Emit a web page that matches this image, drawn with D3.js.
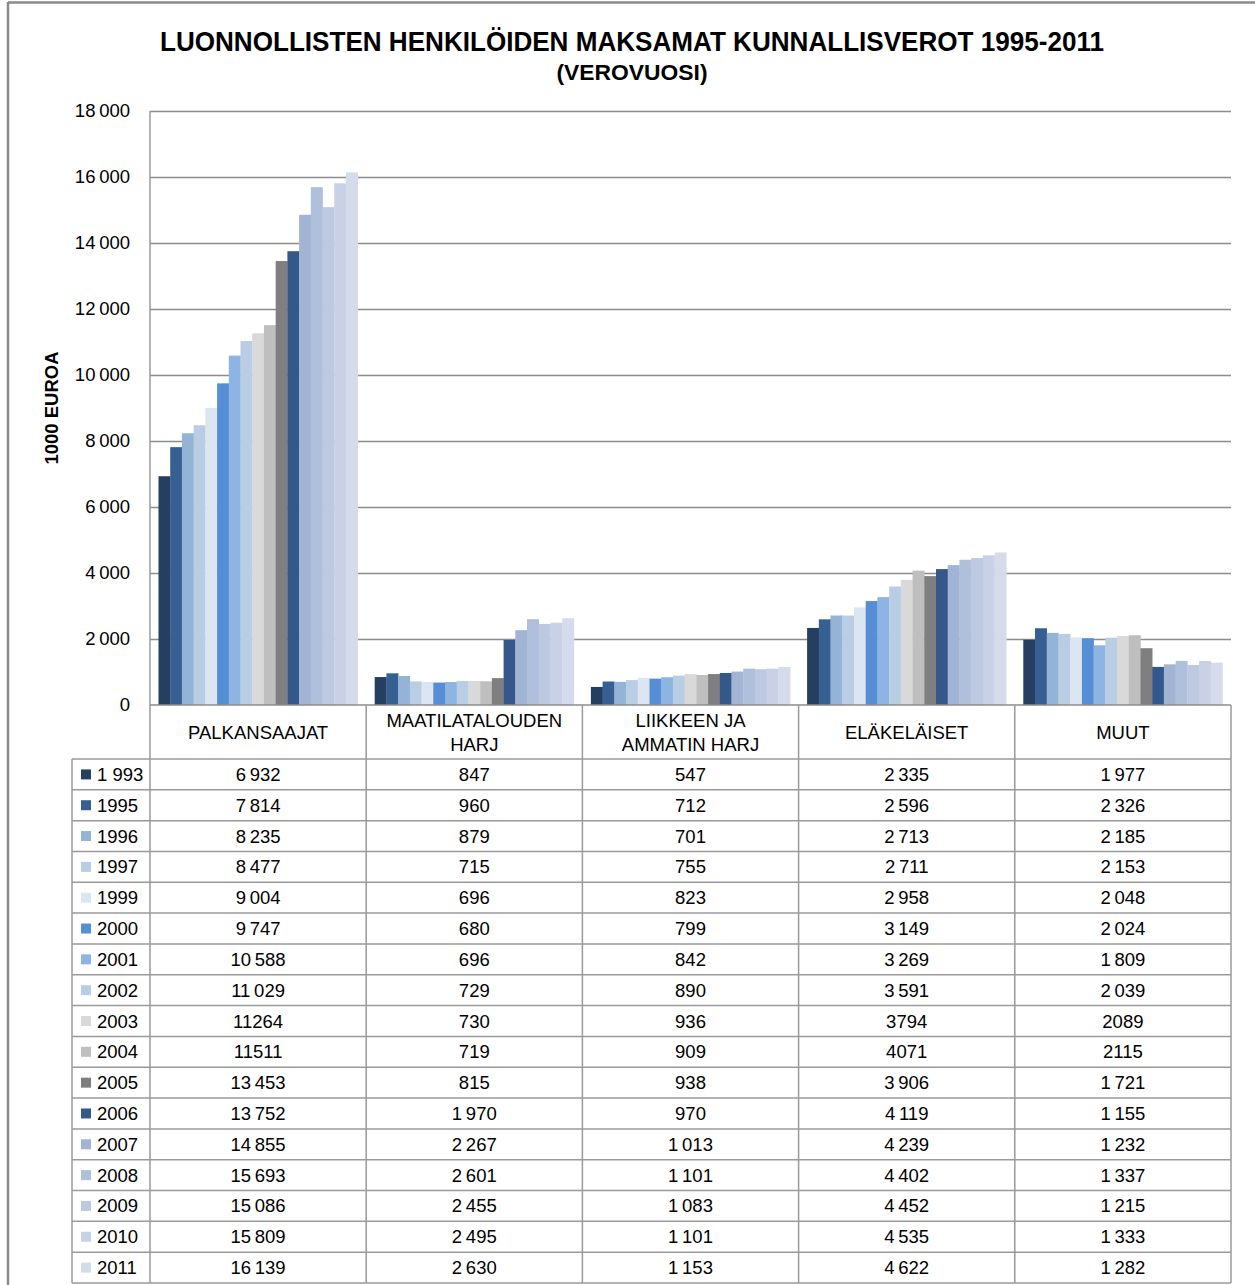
<!DOCTYPE html>
<html>
<head>
<meta charset="utf-8">
<script src="https://cdnjs.cloudflare.com/ajax/libs/d3/7.8.5/d3.min.js"></script>
<style>
html,body{margin:0;padding:0;background:#fff;}
svg{display:block;}
text{font-family:"Liberation Sans",Arial,sans-serif;fill:#000;}
</style>
</head>
<body>
<script>
const categories = ["PALKANSAAJAT","MAATILATALOUDEN HARJ","LIIKKEEN JA AMMATIN HARJ","ELÄKELÄISET","MUUT"];
const categoryLines = [["PALKANSAAJAT"],["MAATILATALOUDEN","HARJ"],["LIIKKEEN JA","AMMATIN HARJ"],["ELÄKELÄISET"],["MUUT"]];
const years = ["1 993","1995","1996","1997","1999","2000","2001","2002","2003","2004","2005","2006","2007","2008","2009","2010","2011"];
const palkansaajat = [6932,7814,8235,8477,9004,9747,10588,11029,11264,11511,13453,13752,14855,15693,15086,15809,16139];
const maatilatalouden = [847,960,879,715,696,680,696,729,730,719,815,1970,2267,2601,2455,2495,2630];
const liikkeen = [547,712,701,755,823,799,842,890,936,909,938,970,1013,1101,1083,1101,1153];
const elakelaiset = [2335,2596,2713,2711,2958,3149,3269,3591,3794,4071,3906,4119,4239,4402,4452,4535,4622];
const muut = [1977,2326,2185,2153,2048,2024,1809,2039,2089,2115,1721,1155,1232,1337,1215,1333,1282];
const unseparatedYears = ["2003","2004"];
const yTicks = [0,2000,4000,6000,8000,10000,12000,14000,16000,18000];
const yearColors = ["#243F60","#376092","#95B3D7","#B9CDE5","#DCE6F2","#558ED5","#8EB4E3","#B9CDE5","#D9D9D9","#BFBFBF","#7F7F7F","#35588A","#A1B4D4","#AFC0DC","#BDC9E1","#C9D1E6","#D4DCEB"];

const seriesByCategory = [palkansaajat, maatilatalouden, liikkeen, elakelaiset, muut];

const W = 1255, H = 1285;
const plot = {left:150, right:1231, top:111, bottom:705};
const tableTop = 759, tableBottom = 1283, legendLeft = 72;

const svg = d3.select("body").append("svg").attr("width", W).attr("height", H);

// outer frame
svg.append("line").attr("x1",8).attr("x2",W).attr("y1",2.5).attr("y2",2.5).attr("stroke","#8a8a8a").attr("stroke-width",2.5);
svg.append("line").attr("x1",8).attr("x2",8).attr("y1",2).attr("y2",H).attr("stroke","#8a8a8a").attr("stroke-width",2.5);

// title
svg.append("text").attr("x",632).attr("y",51).attr("text-anchor","middle")
  .attr("font-weight","bold").attr("font-size",28.5)
  .attr("textLength",944).attr("lengthAdjust","spacingAndGlyphs")
  .text("LUONNOLLISTEN HENKILÖIDEN MAKSAMAT KUNNALLISVEROT 1995-2011");
svg.append("text").attr("x",632).attr("y",80).attr("text-anchor","middle")
  .attr("font-weight","bold").attr("font-size",22)
  .attr("textLength",151).attr("lengthAdjust","spacingAndGlyphs")
  .text("(VEROVUOSI)");

const y = d3.scaleLinear().domain([0,18000]).range([plot.bottom, plot.top]);
const x0 = d3.scaleBand().domain(categories).range([plot.left, plot.right]).paddingInner(0).paddingOuter(0);
const x1 = d3.scaleBand().domain(years).range([8.5, x0.bandwidth()-8.5]).padding(0);

const fmt = (v, yr) => {
  const s = String(v);
  if (unseparatedYears.includes(yr)) return s;
  return s.replace(/\B(?=(\d{3})+(?!\d))/g, "\u2009");
};

// gridlines
const yAxis = d3.axisLeft(y).tickValues(yTicks).tickSize(-(plot.right-plot.left)).tickPadding(20)
  .tickFormat(d => d===0 ? "0" : d3.format(",")(d).replace(/,/g, "\u2009"));
const gy = svg.append("g").attr("transform",`translate(${plot.left},0)`).call(yAxis);
gy.select(".domain").remove();
gy.selectAll(".tick line").attr("stroke","#8c8c8c").attr("stroke-width",1.5);
gy.selectAll(".tick text").attr("font-size",18.5).attr("fill","#000").attr("font-family","'Liberation Sans',Arial,sans-serif").attr("dx",0);
gy.selectAll(".tick").filter(d=>d===0).select("line").remove();

// y axis title
svg.append("text").attr("transform","translate(58,408) rotate(-90)").attr("text-anchor","middle")
  .attr("font-weight","bold").attr("font-size",18.5).text("1000 EUROA");

// bars
const groups = svg.append("g").selectAll("g").data(categories).join("g")
  .attr("transform", d => `translate(${x0(d)},0)`);
groups.selectAll("rect").data((c,ci) => years.map((yr,i)=>({yr, i, v: seriesByCategory[ci][i]}))).join("rect")
  .attr("x", d => x1(d.yr)).attr("width", x1.bandwidth()+0.3)
  .attr("y", d => y(d.v)).attr("height", d => y(0)-y(d.v))
  .attr("fill", d => yearColors[d.i]);

// axes lines
const lineColor = "#9a9a9a";
const L = (x1_,y1_,x2_,y2_,c,w) => svg.append("line").attr("x1",x1_).attr("y1",y1_).attr("x2",x2_).attr("y2",y2_).attr("stroke",c||lineColor).attr("stroke-width",w||1.5);
L(plot.left, plot.top, plot.left, tableBottom, "#9a9a9a");
L(plot.left, plot.bottom, plot.right, plot.bottom, "#8c8c8c", 1.5);
// table
L(legendLeft, tableTop, plot.right, tableTop);
L(legendLeft, tableTop, legendLeft, tableBottom);
const rowH = (tableBottom - tableTop) / years.length;
years.forEach((yr,i) => L(legendLeft, tableTop + rowH*(i+1), plot.right, tableTop + rowH*(i+1)));
categories.forEach(c => L(x0(c)+x0.bandwidth(), plot.bottom, x0(c)+x0.bandwidth(), tableBottom));

// category headers
categories.forEach((c,ci) => {
  const lines = categoryLines[ci];
  const cx = x0(c) + x0.bandwidth()/2;
  const startY = lines.length === 1 ? 739 : 727;
  lines.forEach((ln,li) => {
    svg.append("text").attr("x",cx).attr("y",startY + li*24).attr("text-anchor","middle")
      .attr("font-size",18.5).text(ln);
  });
});

// table rows
years.forEach((yr,i) => {
  const cy = tableTop + rowH*i + rowH/2;
  svg.append("rect").attr("x",81).attr("y",cy-5).attr("width",10).attr("height",10).attr("fill",yearColors[i]);
  svg.append("text").attr("x",97).attr("y",cy+6.5).attr("font-size",18.5).text(yr);
  categories.forEach((c,ci) => {
    svg.append("text").attr("x", x0(c)+x0.bandwidth()/2).attr("y", cy+6.5).attr("text-anchor","middle")
      .attr("font-size",18.5).text(fmt(seriesByCategory[ci][i], yr));
  });
});
</script>
</body>
</html>
